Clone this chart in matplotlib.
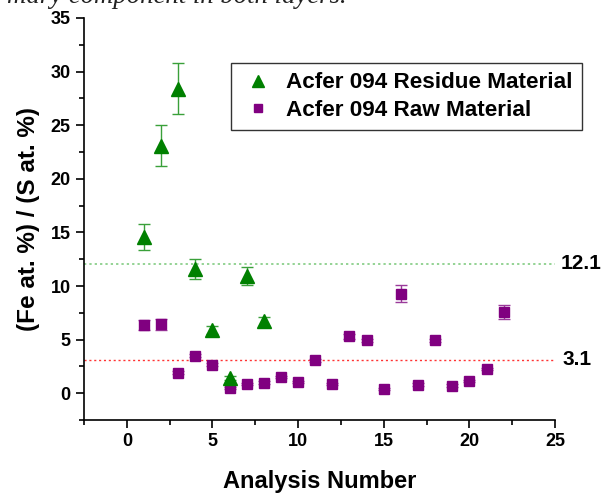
import matplotlib.pyplot as plt
from matplotlib.lines import Line2D
from matplotlib.ticker import MultipleLocator

# Acfer 094 residue material (triangles)
res_x = [1, 2, 3, 4, 5, 6, 7, 8]
res_y = [14.6, 23.1, 28.4, 11.6, 5.9, 1.4, 10.9, 6.7]
res_err = [1.2, 1.9, 2.4, 0.9, 0.4, 0.2, 0.85, 0.45]

# Acfer 094 raw material (squares)
raw_x = list(range(1, 23))
raw_y = [6.35, 6.44, 1.93, 3.5, 2.68, 0.5, 0.87, 1.0, 1.55, 1.02, 3.08,
         0.87, 5.32, 4.95, 0.43, 9.27, 0.81, 4.95, 0.72, 1.15, 2.24, 7.56]
raw_err = [0.45, 0.5, 0.1, 0.15, 0.1, 0.1, 0.1, 0.1, 0.1, 0.1, 0.15,
           0.1, 0.25, 0.15, 0.1, 0.8, 0.1, 0.15, 0.1, 0.1, 0.1, 0.65]

res_mean = 12.1
raw_mean = 3.1

green = '#008000'
purple = '#800080'

plt.rcParams['font.family'] = ['Liberation Sans', 'DejaVu Sans']

fig = plt.figure(figsize=(6.01, 4.93), dpi=100)
ax = fig.add_axes([0.1398, 0.148, 0.7837, 0.8155])

ax.axhline(res_mean, color='#77c777', ls=(0, (1.5, 2)), lw=1.1, zorder=1)
ax.axhline(raw_mean, color='#ff3333', ls=(0, (1.5, 2)), lw=1.0, zorder=1)

ax.errorbar(raw_x, raw_y, yerr=raw_err, fmt='s', color=purple, ms=7,
            ecolor='#9a3a9a', elinewidth=1, capsize=4, capthick=1, zorder=3)
ax.errorbar(res_x, res_y, yerr=res_err, fmt='^', color=green, ms=9.5,
            ecolor='#3aa03a', elinewidth=1, capsize=4, capthick=1, zorder=4)

ax.set_xlim(-2.5, 25)
ax.set_ylim(-2.5, 35)
ax.xaxis.set_major_locator(MultipleLocator(5))
ax.xaxis.set_minor_locator(MultipleLocator(2.5))
ax.yaxis.set_major_locator(MultipleLocator(5))
ax.yaxis.set_minor_locator(MultipleLocator(2.5))
ax.tick_params(which='major', direction='out', length=6, width=1.2,
               labelsize=13)
ax.tick_params(which='minor', direction='out', length=3.5, width=1.2)
for lab in ax.get_xticklabels() + ax.get_yticklabels():
    lab.set_fontweight('bold')
ax.spines['top'].set_visible(False)
ax.spines['right'].set_visible(False)
ax.spines['left'].set_linewidth(1.2)
ax.spines['bottom'].set_linewidth(1.2)

ax.set_xlabel('Analysis Number', fontsize=17, fontweight='bold', labelpad=14)
ax.set_ylabel('(Fe at. %) / (S at. %)', fontsize=17.5, fontweight='bold',
              labelpad=8)

ax.text(1.012, res_mean, '12.1', transform=ax.get_yaxis_transform(),
        fontsize=15, fontweight='bold', va='center', ha='left', clip_on=False)
ax.text(1.016, raw_mean, '3.1', transform=ax.get_yaxis_transform(),
        fontsize=15, fontweight='bold', va='center', ha='left', clip_on=False)

handles = [
    Line2D([], [], ls='none', marker='^', color=green, ms=8),
    Line2D([], [], ls='none', marker='s', color=purple, ms=6),
]
labels = ['Acfer 094 Residue Material', 'Acfer 094 Raw Material']
leg = ax.legend(handles, labels, loc='upper left',
                bbox_to_anchor=(0.313, 0.888),
                prop={'weight': 'bold', 'size': 16.2},
                handletextpad=0.5, handlelength=1.5, borderpad=0.42,
                labelspacing=0.28, fancybox=False, framealpha=1,
                borderaxespad=0)
leg.get_frame().set_edgecolor('#333333')
leg.get_frame().set_linewidth(1)

fig.text(0.012, 0.994, 'mary component in both layers.', fontsize=19.3,
         family='Liberation Serif', style='italic', color='#222222',
         va='baseline', ha='left')

fig.savefig('out.png', dpi=100)
